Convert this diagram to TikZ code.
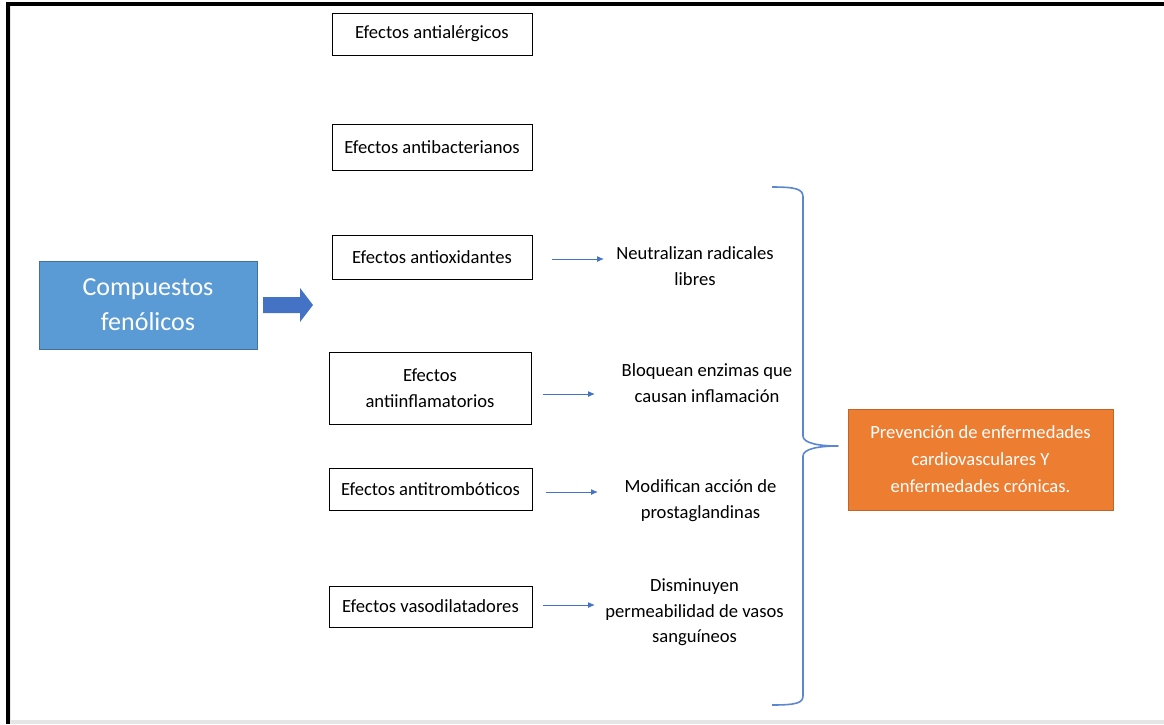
\documentclass[tikz,border=0pt]{standalone}
\usepackage{fontspec}
\setmainfont{Carlito}
\usetikzlibrary{arrows.meta}
\definecolor{blueboxc}{HTML}{5B9BD5}
\definecolor{blueedge}{HTML}{41719C}
\definecolor{orangec}{HTML}{ED7D31}
\definecolor{orangeedge}{HTML}{C0652A}
\definecolor{arrowblue}{HTML}{4472C4}
\definecolor{bracec}{HTML}{5B86D0}
\definecolor{stripgray}{HTML}{E6E6E6}
\begin{document}
\begin{tikzpicture}[x=1pt,y=-1pt,
  effbox/.style={draw=black, line width=1pt, fill=white, inner sep=0pt, align=center,
    font=\fontsize{18.6}{25.5}\selectfont},
  desc/.style={inner sep=0pt, align=center, font=\fontsize{18.6}{25.5}\selectfont},
  thinarrow/.style={draw=arrowblue, line width=1pt, -{Latex[length=7pt,width=6pt]}},
  bigbox/.style={inner sep=0pt, align=center, text=white}
]
\useasboundingbox (0,0) rectangle (1164,724);
% frame
\fill[stripgray] (10,720) rectangle (1164,724);
\draw[stripgray, line width=1pt] (10.8,6) -- (10.8,720);
\draw[black, line width=4pt] (8,724) -- (8,4) -- (1164,4);

% main blue box
\node[bigbox, fill=blueboxc, draw=blueedge, line width=0.6pt, minimum width=218pt, minimum height=88pt,
  font=\fontsize{26}{35}\selectfont] (cf) at (148,305) {Compuestos\\fenólicos};
% fat arrow
\fill[arrowblue] (263,297) -- (300,297) -- (300,288) -- (313,305) -- (300,322) -- (300,313) -- (263,313) -- cycle;

% effect boxes
\node[effbox, minimum width=200pt, minimum height=42pt] (b1) at (432,34) {Efectos antialérgicos};
\node[effbox, minimum width=200pt, minimum height=46pt] (b2) at (432,147) {Efectos antibacterianos};
\node[effbox, minimum width=200pt, minimum height=44pt] (b3) at (432,257) {Efectos antioxidantes};
\node[effbox, minimum width=202pt, minimum height=72pt] (b4) at (430,388) {Efectos\\antiinflamatorios};
\node[effbox, minimum width=203pt, minimum height=42pt] (b5) at (430.5,489) {Efectos antitrombóticos};
\node[effbox, minimum width=203pt, minimum height=41pt] (b6) at (430.5,606.5) {Efectos vasodilatadores};

% descriptions
\node[desc] (t3) at (695,266) {Neutralizan radicales\\libres};
\node[desc] (t4) at (707,383) {Bloquean enzimas que\\causan inflamación};
\node[desc] (t5) at (700.5,500.5) {Modifican acción de\\prostaglandinas};
\node[desc] (t6) at (694.5,612.5) {Disminuyen\\permeabilidad de vasos\\sanguíneos};

% arrow end points
\coordinate (e3) at (604,259);
\coordinate (e4) at (595,394);
\coordinate (e5) at (598,492);
\coordinate (e6) at (595,605);
\draw[thinarrow, shorten <=19pt] (b3.east |- e3) -- (e3);
\draw[thinarrow, shorten <=11pt] (b4.east |- e4) -- (e4);
\draw[thinarrow, shorten <=13.5pt] (b5.east |- e5) -- (e5);
\draw[thinarrow, shorten <=10pt] (b6.east |- e6) -- (e6);

% outcome box
\node[bigbox, fill=orangec, draw=orangeedge, line width=0.8pt, minimum width=265pt, minimum height=101pt,
  font=\fontsize{18.6}{27}\selectfont] (prev) at (980.5,459.5) {Prevención de enfermedades\\cardiovasculares Y\\enfermedades crónicas.};

% brace
\coordinate (tip) at (838,446);
\draw[bracec, line width=1.6pt, line join=round]
  (772,187) .. controls (796,187) and (803,189) .. (803,197)
  -- (803,436) .. controls (803,443) and (818,446) .. (tip)
  .. controls (818,446) and (803,449) .. (803,456)
  -- (803,696) .. controls (803,703) and (796,705) .. (772,705);
\end{tikzpicture}
\end{document}
